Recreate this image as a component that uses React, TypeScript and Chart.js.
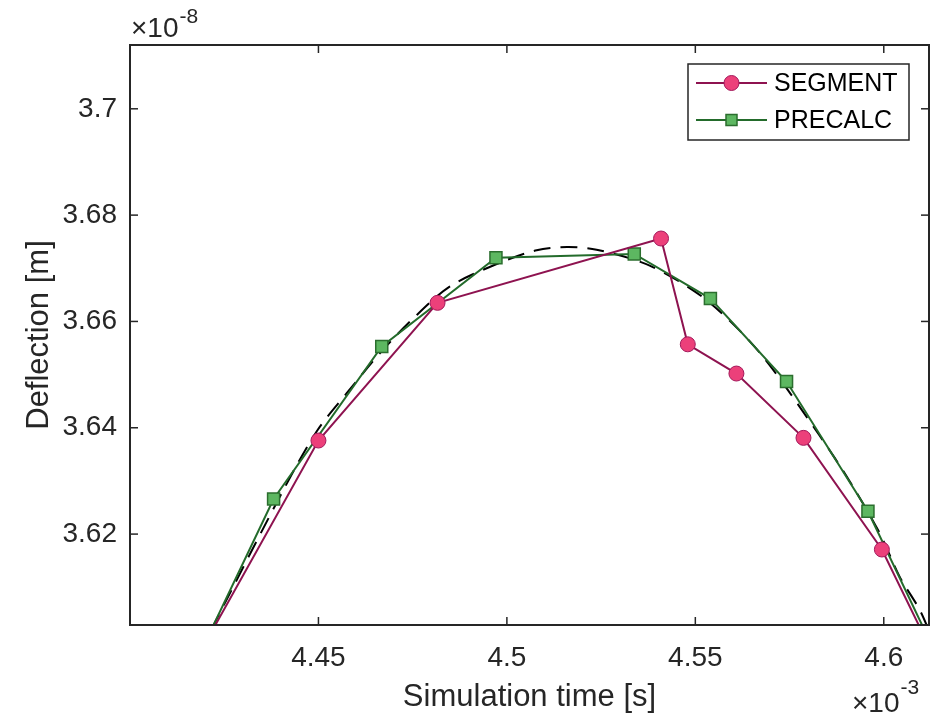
import React, { useEffect, useRef } from "react";
import { Chart, registerables } from "chart.js";

Chart.register(...registerables);

const FONT = '"Liberation Sans", Arial, Helvetica, sans-serif';
const INK = "#262626";

// ---- data (time in 1e-3 s, deflection in 1e-8 m) ----
const seriesNames = ["SEGMENT", "PRECALC"];

const segmentTime = [4.418, 4.45, 4.4816, 4.5409, 4.548, 4.5609, 4.5787, 4.5995, 4.62];
const segmentDeflection = [3.597, 3.6376, 3.6635, 3.6756, 3.6557, 3.6502, 3.6381, 3.6171, 3.5873];

const precalcTime = [4.41, 4.4381, 4.4668, 4.4971, 4.5338, 4.554, 4.5742, 4.5958, 4.617];
const precalcDeflection = [3.5848, 3.6266, 3.6553, 3.672, 3.6727, 3.6643, 3.6487, 3.6243, 3.5927];

const referenceTime = [
  4.4185, 4.4222, 4.4407, 4.4496, 4.4575, 4.4664, 4.4752, 4.4849, 4.4973, 4.5079, 4.516,
  4.5238, 4.5379, 4.553, 4.5671, 4.583, 4.5909, 4.5989, 4.6042, 4.6095, 4.6125,
];
const referenceDeflection = [
  3.5975, 3.6029, 3.6283, 3.6394, 3.6465, 3.6541, 3.6606, 3.6666, 3.6708, 3.6734, 3.674,
  3.6735, 3.6705, 3.664, 3.6541, 3.6385, 3.63, 3.6202, 3.612, 3.6058, 3.601,
];

const xTickValues = [4.45, 4.5, 4.55, 4.6];
const xTickLabels = ["4.45", "4.5", "4.55", "4.6"];
const yTickValues = [3.62, 3.64, 3.66, 3.68, 3.7];
const yTickLabels = ["3.62", "3.64", "3.66", "3.68", "3.7"];
const xRange = [4.4, 4.612];
const yRange = [3.6029, 3.712];

const xTitle = "Simulation time [s]";
const yTitle = "Deflection [m]";
const xExponent = "-3";
const yExponent = "-8";

const SEG_LINE = "#8E1350";
const SEG_FILL = "#EC407A";
const SEG_EDGE = "#A3195B";
const PRE_LINE = "#236B2B";
const PRE_FILL = "#5DB761";
const PRE_EDGE = "#2B6E2E";

const toXY = (xs: number[], ys: number[]) => xs.map((x, i) => ({ x, y: ys[i] }));

const axesPlugin = {
  id: "matlabAxes",
  afterDraw(chart: any) {
    const { ctx, chartArea: a, scales } = chart;
    ctx.save();
    ctx.strokeStyle = INK;
    ctx.lineWidth = 1.5;
    const line = (x1: number, y1: number, x2: number, y2: number) => {
      ctx.beginPath();
      ctx.moveTo(x1, y1);
      ctx.lineTo(x2, y2);
      ctx.stroke();
    };
    xTickValues.forEach((v) => {
      const px = scales.x.getPixelForValue(v);
      line(px, a.bottom, px, a.bottom - 8);
      line(px, a.top, px, a.top + 8);
    });
    yTickValues.forEach((v) => {
      const py = scales.y.getPixelForValue(v);
      line(a.left, py, a.left + 8, py);
      line(a.right, py, a.right - 8, py);
    });
    ctx.lineWidth = 2;
    ctx.strokeRect(a.left, a.top, a.right - a.left, a.bottom - a.top);

    // axis titles
    ctx.fillStyle = INK;
    ctx.font = `31px ${FONT}`;
    ctx.textAlign = "center";
    ctx.textBaseline = "alphabetic";
    ctx.fillText(xTitle, (a.left + a.right) / 2, a.bottom + 81);
    ctx.save();
    ctx.translate(a.left - 82, (a.top + a.bottom) / 2);
    ctx.rotate(-Math.PI / 2);
    ctx.fillText(yTitle, 0, 0);
    ctx.restore();

    // exponent labels
    ctx.textAlign = "left";
    const base = "\u00D710";
    ctx.font = `28px ${FONT}`;
    const w = ctx.measureText(base).width;
    ctx.fillText(base, a.left + 1, a.top - 8);
    ctx.font = `21px ${FONT}`;
    ctx.fillText(yExponent, a.left + 1 + w + 1, a.top - 22);

    const ex = a.right - 77;
    ctx.font = `28px ${FONT}`;
    ctx.fillText(base, ex, a.bottom + 87);
    ctx.font = `21px ${FONT}`;
    ctx.fillText(xExponent, ex + w + 1, a.bottom + 69);
    ctx.restore();
  },
};

const legendPlugin = {
  id: "insideLegend",
  afterDraw(chart: any) {
    const { ctx, chartArea: a } = chart;
    const bx = a.right - 241;
    const by = a.top + 19;
    const bw = 221;
    const bh = 76;
    ctx.save();
    ctx.fillStyle = "#ffffff";
    ctx.fillRect(bx, by, bw, bh);
    ctx.strokeStyle = INK;
    ctx.lineWidth = 1.5;
    ctx.strokeRect(bx, by, bw, bh);
    const rows = [by + 19, by + 56];
    const lineX1 = bx + 8;
    const lineX2 = bx + 79;
    const mx = (lineX1 + lineX2) / 2;
    // SEGMENT
    ctx.strokeStyle = SEG_LINE;
    ctx.lineWidth = 2;
    ctx.beginPath();
    ctx.moveTo(lineX1, rows[0]);
    ctx.lineTo(lineX2, rows[0]);
    ctx.stroke();
    ctx.beginPath();
    ctx.arc(mx, rows[0], 7.5, 0, Math.PI * 2);
    ctx.fillStyle = SEG_FILL;
    ctx.fill();
    ctx.strokeStyle = SEG_EDGE;
    ctx.lineWidth = 1;
    ctx.stroke();
    // PRECALC
    ctx.strokeStyle = PRE_LINE;
    ctx.lineWidth = 2;
    ctx.beginPath();
    ctx.moveTo(lineX1, rows[1]);
    ctx.lineTo(lineX2, rows[1]);
    ctx.stroke();
    ctx.fillStyle = PRE_FILL;
    ctx.fillRect(mx - 5.5, rows[1] - 5.5, 11, 11);
    ctx.strokeStyle = PRE_EDGE;
    ctx.lineWidth = 1.5;
    ctx.strokeRect(mx - 5.5, rows[1] - 5.5, 11, 11);
    // text
    ctx.fillStyle = "#000000";
    ctx.font = `25px ${FONT}`;
    ctx.textAlign = "left";
    ctx.textBaseline = "middle";
    ctx.fillText(seriesNames[0], bx + 86, rows[0] + 1);
    ctx.fillText(seriesNames[1], bx + 86, rows[1] + 1);
    ctx.restore();
  },
};

export default function App() {
  const ref = useRef<HTMLCanvasElement | null>(null);
  useEffect(() => {
    if (!ref.current) return;
    const chart = new Chart(ref.current, {
      type: "line",
      data: {
        datasets: [
          {
            label: seriesNames[0],
            data: toXY(segmentTime, segmentDeflection),
            borderColor: SEG_LINE,
            borderWidth: 2,
            pointStyle: "circle",
            pointRadius: 7.5,
            pointBackgroundColor: SEG_FILL,
            pointBorderColor: SEG_EDGE,
            pointBorderWidth: 1,
            tension: 0,
            clip: 0,
          } as any,
          {
            label: seriesNames[1],
            data: toXY(precalcTime, precalcDeflection),
            borderColor: PRE_LINE,
            borderWidth: 2,
            pointStyle: "rect",
            pointRadius: 8.5,
            pointBackgroundColor: PRE_FILL,
            pointBorderColor: PRE_EDGE,
            pointBorderWidth: 1.5,
            tension: 0,
            clip: 0,
          } as any,
          {
            label: "reference",
            data: toXY(referenceTime, referenceDeflection),
            borderColor: "#000000",
            borderWidth: 2,
            borderDash: [17, 10],
            pointRadius: 0,
            tension: 0.3,
            clip: 0,
          } as any,
        ],
      },
      options: {
        animation: false,
        responsive: false,
        maintainAspectRatio: false,
        parsing: false,
        layout: { padding: { left: 8, top: 45, right: 21, bottom: 0 } },
        plugins: { legend: { display: false }, tooltip: { enabled: false } },
        scales: {
          x: {
            type: "linear",
            min: xRange[0],
            max: xRange[1],
            grid: { display: false, drawTicks: false },
            border: { display: false },
            afterBuildTicks: (scale: any) => {
              scale.ticks = xTickValues.map((v) => ({ value: v }));
            },
            afterFit: (scale: any) => {
              scale.height = 90;
            },
            ticks: {
              padding: 16,
              color: INK,
              font: { family: FONT, size: 28 },
              maxRotation: 0,
              autoSkip: false,
              callback: (_v: any, i: number) => xTickLabels[i],
            },
          },
          y: {
            type: "linear",
            min: yRange[0],
            max: yRange[1],
            grid: { display: false, drawTicks: false },
            border: { display: false },
            afterBuildTicks: (scale: any) => {
              scale.ticks = yTickValues.map((v) => ({ value: v }));
            },
            afterFit: (scale: any) => {
              scale.width = 122;
            },
            ticks: {
              padding: 13,
              color: INK,
              font: { family: FONT, size: 28 },
              autoSkip: false,
              callback: (_v: any, i: number) => yTickLabels[i],
            },
          },
        },
      },
      plugins: [axesPlugin, legendPlugin],
    });
    return () => chart.destroy();
  }, []);
  return (
    <div style={{ position: "absolute", left: 0, top: 0, width: 950, height: 715, background: "#fff" }}>
      <canvas ref={ref} width={950} height={715} style={{ display: "block" }} />
    </div>
  );
}
